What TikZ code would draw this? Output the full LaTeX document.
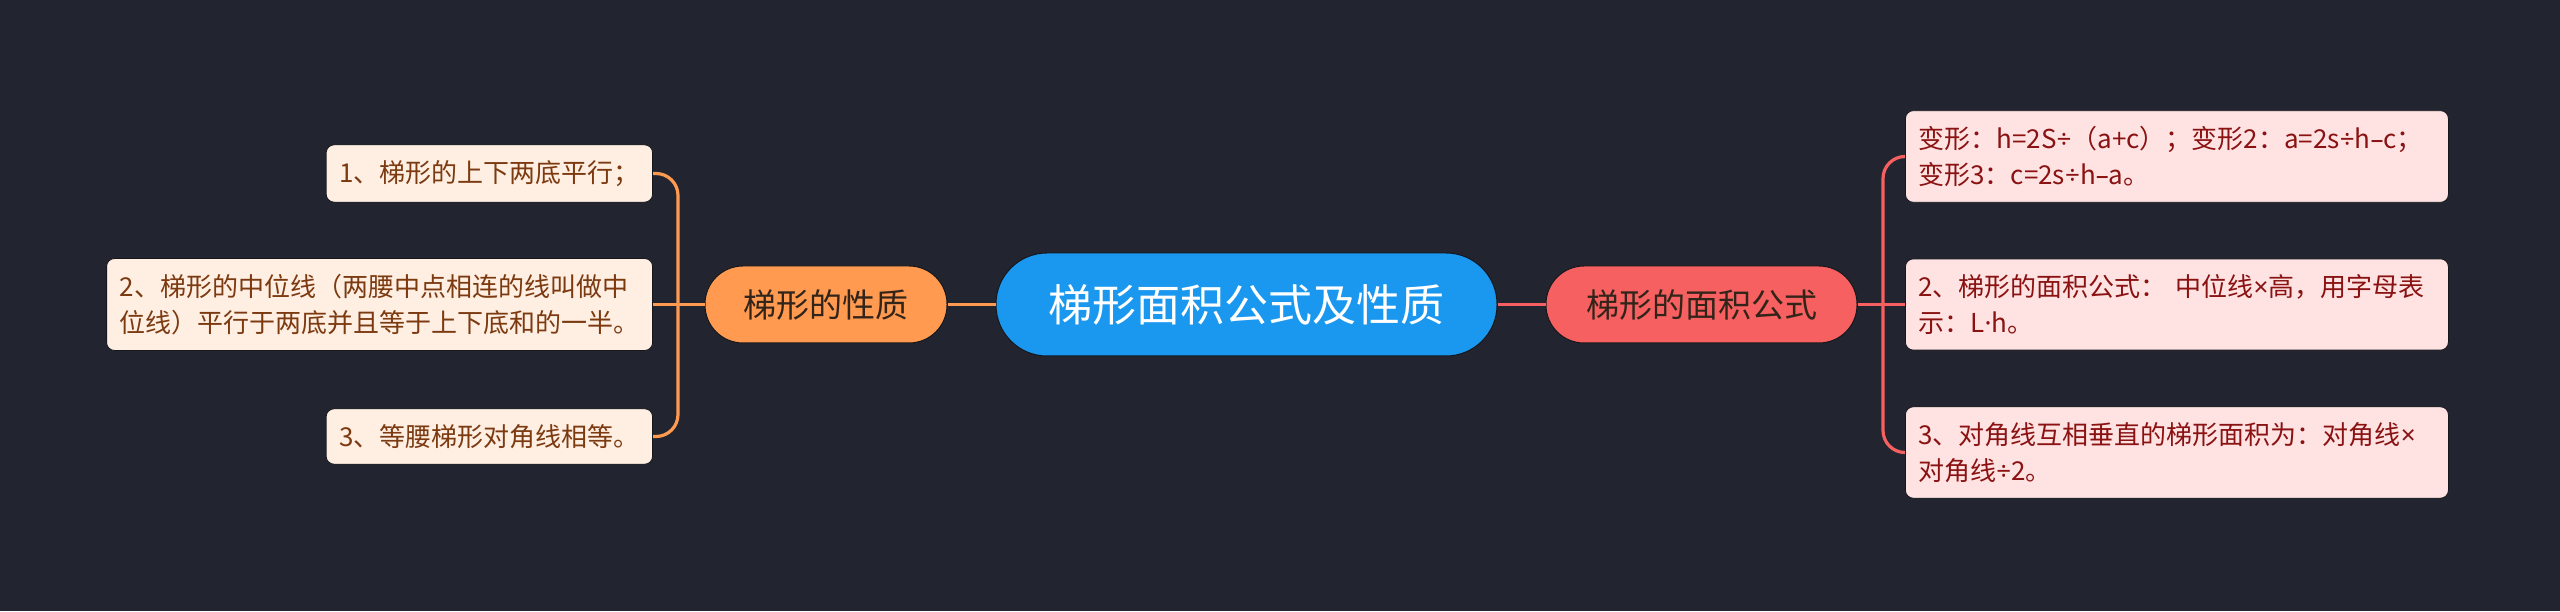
\documentclass[tikz,border=0pt]{standalone}
\usepackage{fontspec}
\setmainfont{Noto Sans CJK SC}
\newfontfamily\latinf{Noto Sans}
\usetikzlibrary{positioning}
\definecolor{bgnavy}{HTML}{22252F}
\definecolor{mainblue}{HTML}{1A97EE}
\definecolor{propor}{HTML}{FF9A50}
\definecolor{areared}{HTML}{F66060}
\definecolor{leaforfill}{HTML}{FFEFE3}
\definecolor{leafredfill}{HTML}{FFE3E3}
\definecolor{leafortext}{HTML}{7C3A10}
\definecolor{leafredtext}{HTML}{8A1212}
\definecolor{topictext}{HTML}{33241A}
\definecolor{edgedark}{HTML}{15171D}
\newcommand{\dv}{{\latinf ÷}}
\newcommand{\tm}{{\latinf ×}}
\newcommand{\md}{{\latinf ·}}
\newcommand{\mn}{{\latinf –}}
\tikzset{
  mainnode/.style={rounded corners=25.5pt, fill=mainblue, draw=edgedark, line width=0.5pt,
    minimum width=250.5pt, minimum height=51.5pt, inner sep=0pt,
    text=white, font=\fontsize{22}{26}\selectfont},
  topic/.style={rounded corners=19pt, draw=edgedark, line width=0.5pt,
    minimum height=38.5pt, inner sep=0pt, text=topictext,
    font=\fontsize{16.5}{20}\selectfont},
  leafbox/.style={rounded corners=4pt, draw=edgedark, line width=0.4pt,
    inner xsep=6.5pt, inner ysep=7.8pt, align=left,
    font=\fontsize{13}{18}\selectfont},
  leafor/.style={leafbox, fill=leaforfill, text=leafortext},
  leafred/.style={leafbox, fill=leafredfill, text=leafredtext, text width=258.5pt},
  linkor/.style={propor, line width=1.6pt, rounded corners=11pt},
  linkred/.style={areared, line width=1.6pt, rounded corners=11pt}
}
\begin{document}
\begin{tikzpicture}[x=1pt,y=1pt]
\fill[bgnavy] (0,0) rectangle (1280,305.5);
\useasboundingbox (0,0) rectangle (1280,305.5);

% centre and the two branches
\node[mainnode] (main) at (623.25,153.25) {梯形面积公式及性质};
\node[topic, fill=propor, minimum width=121pt] (prop) at (413,153.25) {梯形的性质};
\node[topic, fill=areared, minimum width=155.5pt] (area) at (850.75,153.25) {梯形的面积公式};

% left leaves
\node[leafor, anchor=east] (p1) at (326.5,218.75) {1、梯形的上下两底平行；};
\node[leafor, anchor=east] (p2) at (326.5,153.25) {2、梯形的中位线（两腰中点相连的线叫做中\\位线）平行于两底并且等于上下底和的一半。};
\node[leafor, anchor=east] (p3) at (326.5,87.25) {3、等腰梯形对角线相等。};

% right leaves
\node[leafred, anchor=west] (a1) at (952.5,227.25) {\mbox{变形：h=2S\dv（a+c）；变形2：a=2s\dv h\mn c；}\\\mbox{变形3：c=2s\dv h\mn a。}};
\node[leafred, anchor=west] (a2) at (952.5,153.25) {\mbox{2、梯形的面积公式：\ 中位线\tm 高，用字母表}\\\mbox{示：L\md h。}};
\node[leafred, anchor=west] (a3) at (952.5,79.25) {\mbox{3、对角线互相垂直的梯形面积为：对角线\tm}\\\mbox{对角线\dv 2。}};

\coordinate (jp) at (339,153.25);
\coordinate (ja) at (941.5,153.25);

% connectors
\draw[linkor] (main.west) -- (prop.east);
\draw[linkor] (prop.west) -- (p2.east);
\draw[linkor] (p1.east) -| (jp) |- (p3.east);
\draw[linkred] (main.east) -- (area.west);
\draw[linkred] (area.east) -- (a2.west);
\draw[linkred] (a1.west) -| (ja) |- (a3.west);
\end{tikzpicture}
\end{document}
